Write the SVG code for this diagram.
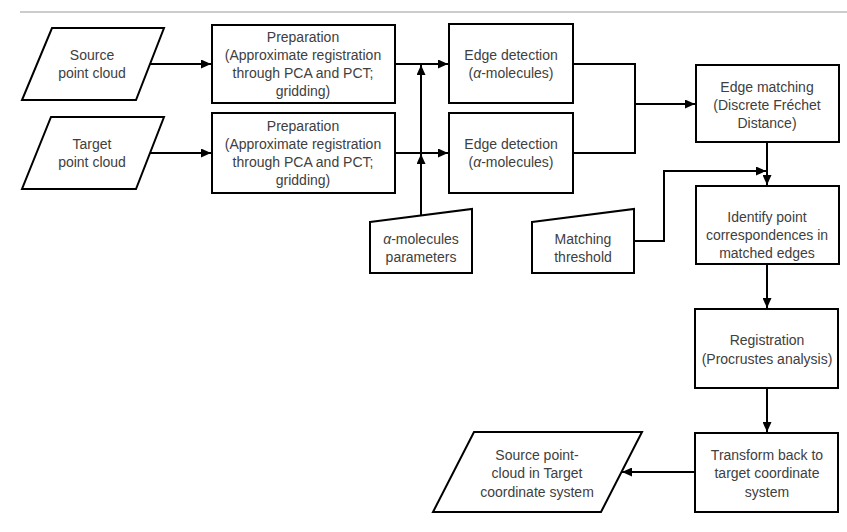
<svg xmlns="http://www.w3.org/2000/svg" width="847" height="532" viewBox="0 0 847 532">
<style>
.shape{fill:#fff;stroke:#000;stroke-width:2}
.t{font-family:"Liberation Sans",Arial,sans-serif;font-size:14px;fill:#404040;text-anchor:middle}
.c{fill:none;stroke:#000;stroke-width:2}
</style>
<defs>
<marker id="ah" markerUnits="userSpaceOnUse" markerWidth="10" markerHeight="9" refX="10" refY="4.5" orient="auto">
<path d="M0,0 L10,4.5 L0,9 z" fill="#000"/>
</marker>
</defs>
<rect width="847" height="532" fill="#fff"/>
<line x1="20" y1="12" x2="847" y2="12" stroke="#bbb" stroke-width="1.5"/>

<g id="source">
<polygon class="shape" points="52,28 164,28 136,100 22,100"/>
<text class="t" x="92" y="60">Source</text>
<text class="t" x="92" y="78">point cloud</text>
</g>
<g id="target">
<polygon class="shape" points="51,117 164,117 136,189 22,189"/>
<text class="t" x="92" y="149">Target</text>
<text class="t" x="92" y="167">point cloud</text>
</g>
<g id="prep1">
<rect class="shape" x="212" y="25" width="183" height="78"/>
<text class="t" x="303" y="42">Preparation</text>
<text class="t" x="303" y="60">(Approximate registration</text>
<text class="t" x="303" y="78">through PCA and PCT;</text>
<text class="t" x="303" y="96">gridding)</text>
</g>
<g id="prep2">
<rect class="shape" x="212" y="113" width="183" height="80"/>
<text class="t" x="303" y="131">Preparation</text>
<text class="t" x="303" y="149">(Approximate registration</text>
<text class="t" x="303" y="167">through PCA and PCT;</text>
<text class="t" x="303" y="185">gridding)</text>
</g>
<g id="edge1">
<rect class="shape" x="449" y="24" width="124" height="79"/>
<text class="t" x="511" y="60">Edge detection</text>
<text class="t" x="511" y="78">(<tspan font-style="italic">α</tspan>-molecules)</text>
</g>
<g id="edge2">
<rect class="shape" x="449" y="113" width="124" height="80"/>
<text class="t" x="511" y="149">Edge detection</text>
<text class="t" x="511" y="167">(<tspan font-style="italic">α</tspan>-molecules)</text>
</g>
<g id="alpha">
<polygon class="shape" points="370,222 472,209 472,273 370,273"/>
<text class="t" x="421" y="244"><tspan font-style="italic">α</tspan>-molecules</text>
<text class="t" x="421" y="262">parameters</text>
</g>
<g id="threshold">
<polygon class="shape" points="532,222 634,209 634,273 532,273"/>
<text class="t" x="583" y="244">Matching</text>
<text class="t" x="583" y="262">threshold</text>
</g>
<g id="matching">
<rect class="shape" x="696" y="65" width="143" height="77"/>
<text class="t" x="767" y="92">Edge matching</text>
<text class="t" x="767" y="110">(Discrete Fréchet</text>
<text class="t" x="767" y="128">Distance)</text>
</g>
<g id="identify">
<rect class="shape" x="696" y="186" width="143" height="78"/>
<text class="t" x="767" y="222">Identify point</text>
<text class="t" x="767" y="240">correspondences in</text>
<text class="t" x="767" y="258">matched edges</text>
</g>
<g id="registration">
<rect class="shape" x="695" y="309" width="143" height="79"/>
<text class="t" x="767" y="345">Registration</text>
<text class="t" x="767" y="364">(Procrustes analysis)</text>
</g>
<g id="transform">
<rect class="shape" x="695" y="433" width="143" height="79"/>
<text class="t" x="767" y="460">Transform back to</text>
<text class="t" x="767" y="478">target coordinate</text>
<text class="t" x="767" y="497">system</text>
</g>
<g id="output">
<polygon class="shape" points="474,432 642,432 601,512 433,512"/>
<text class="t" x="537" y="460">Source point-</text>
<text class="t" x="537" y="478">cloud in Target</text>
<text class="t" x="537" y="497">coordinate system</text>
</g>

<g id="connectors">
<line class="c" x1="150" y1="64" x2="211" y2="64" marker-end="url(#ah)"/>
<line class="c" x1="150" y1="153" x2="211" y2="153" marker-end="url(#ah)"/>
<line class="c" x1="395" y1="64" x2="448" y2="64" marker-end="url(#ah)"/>
<line class="c" x1="395" y1="153" x2="448" y2="153" marker-end="url(#ah)"/>
<line class="c" x1="421" y1="215" x2="421" y2="154" marker-end="url(#ah)"/>
<line class="c" x1="421" y1="153" x2="421" y2="65" marker-end="url(#ah)"/>
<polyline class="c" points="573,64 635,64 635,153 573,153"/>
<line class="c" x1="635" y1="104" x2="695" y2="104" marker-end="url(#ah)"/>
<polyline class="c" points="634,241 664,241 664,171 766,171" marker-end="url(#ah)"/>
<line class="c" x1="767" y1="142" x2="767" y2="185" marker-end="url(#ah)"/>
<line class="c" x1="767" y1="264" x2="767" y2="308" marker-end="url(#ah)"/>
<line class="c" x1="767" y1="388" x2="767" y2="432" marker-end="url(#ah)"/>
<line class="c" x1="695" y1="472" x2="622" y2="472" marker-end="url(#ah)"/>
</g>
</svg>
